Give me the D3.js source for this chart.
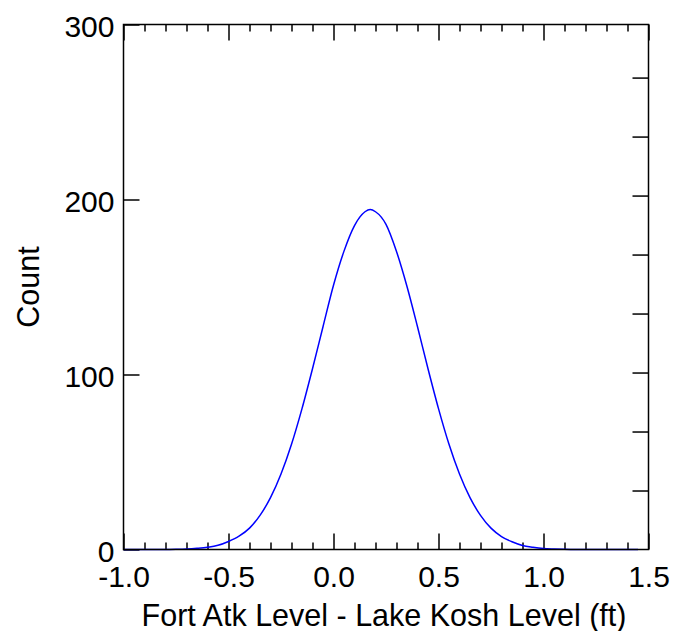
<!DOCTYPE html>
<html>
<head>
<meta charset="utf-8">
<script src="https://cdn.jsdelivr.net/npm/d3@7"></script>
<style>
  html, body { margin: 0; padding: 0; background: #fff; }
  svg text { font-family: "Liberation Sans", Arial, sans-serif; fill: #000; }
</style>
</head>
<body>
<svg id="chart" width="673" height="631"></svg>
<script>
// ---- data ----
const levelDiff = [-1.0, -0.95, -0.9, -0.85, -0.8, -0.75, -0.7, -0.65, -0.6, -0.55, -0.5, -0.45, -0.4, -0.35, -0.3, -0.25, -0.2, -0.15, -0.1, -0.05,
  0.0, 0.05, 0.1, 0.15, 0.175, 0.2, 0.25, 0.3, 0.35, 0.4, 0.45, 0.5, 0.55, 0.6, 0.65, 0.7, 0.75, 0.8, 0.85, 0.9, 0.95,
  1.0, 1.05, 1.1, 1.15, 1.2, 1.25, 1.3, 1.35, 1.4, 1.45, 1.5];
const counts = [0, 0, 0, 0, 0, 0.1, 0.3, 0.7, 1.3, 2.4, 4.6, 7.6, 12.2, 19.5, 29.6, 43.1, 60.1, 80.5, 103.3, 127.3,
  151, 170.5, 185.1, 193, 194.3, 193, 185.8, 170.3, 150.3, 127.3, 103.3, 80.5, 60.1, 43.1, 29.6, 19.5, 12.2, 7.4, 4.4, 2.3, 1.3,
  0.6, 0.3, 0.1, 0, 0, 0, 0, 0, 0, 0];
const xMajorTicks = [-1.0, -0.5, 0.0, 0.5, 1.0, 1.5];
const xMinorTicks = [-0.9, -0.8, -0.7, -0.6, -0.4, -0.3, -0.2, -0.1, 0.1, 0.2, 0.3, 0.4, 0.6, 0.7, 0.8, 0.9, 1.1, 1.2, 1.3, 1.4];
const yTicks = [0, 100, 200, 300];
const rightTicks = [1, 2, 3, 4, 5, 6, 7, 8];
const xTitle = "Fort Atk Level - Lake Kosh Level (ft)";
const yTitle = "Count";

// ---- layout ----
const L = 123.5, R = 648.5, T = 24.5, B = 549.5;
const FS = 30;
const svg = d3.select("#chart");
const x = d3.scaleLinear().domain([-1.0, 1.5]).range([L, R]);
const y = d3.scaleLinear().domain([0, 300]).range([B, T]);
const yRight = d3.scaleLinear().domain([0, 8.9]).range([B, T]);

const majorLen = 16, minorLen = 7;
const fmt = d => d3.format(".1f")(d).replace("\u2212", "-");
const axisStyle = g => {
  g.select(".domain").remove();
  g.selectAll(".tick line").attr("stroke", "#000").attr("stroke-width", 1.5);
  g.selectAll(".tick text").attr("font-size", FS).attr("fill", "#000")
    .attr("font-family", "Liberation Sans, Arial, sans-serif");
};

// bottom major (inward) with labels
svg.append("g").attr("transform", `translate(0,${B})`)
  .call(d3.axisBottom(x).tickValues(xMajorTicks).tickSize(-majorLen).tickPadding(16).tickFormat(fmt))
  .call(axisStyle);
// bottom minor
svg.append("g").attr("transform", `translate(0,${B})`)
  .call(d3.axisBottom(x).tickValues(xMinorTicks).tickSize(-minorLen).tickFormat(""))
  .call(axisStyle);
// top major & minor (inward)
svg.append("g").attr("transform", `translate(0,${T})`)
  .call(d3.axisTop(x).tickValues(xMajorTicks).tickSize(-majorLen).tickFormat(""))
  .call(axisStyle);
svg.append("g").attr("transform", `translate(0,${T})`)
  .call(d3.axisTop(x).tickValues(xMinorTicks).tickSize(-minorLen).tickFormat(""))
  .call(axisStyle);
// left axis
svg.append("g").attr("transform", `translate(${L},0)`)
  .call(d3.axisLeft(y).tickValues(yTicks).tickSize(-majorLen).tickPadding(9).tickFormat(d3.format("d")))
  .call(axisStyle)
  .call(g => g.selectAll(".tick text").attr("dy", "0.4em"));
// right axis ticks (no labels)
svg.append("g").attr("transform", `translate(${R},0)`)
  .call(d3.axisRight(yRight).tickValues(rightTicks).tickSize(-majorLen).tickFormat(""))
  .call(axisStyle);

// curve
const line = d3.line()
  .x((d, i) => x(levelDiff[i]))
  .y(d => y(d))
  .curve(d3.curveMonotoneX);
svg.append("path")
  .datum(counts)
  .attr("fill", "none")
  .attr("stroke", "#0000ff")
  .attr("stroke-width", 1.5)
  .attr("d", line);

// frame
svg.append("rect")
  .attr("x", L).attr("y", T).attr("width", R - L).attr("height", B - T)
  .attr("fill", "none").attr("stroke", "#000").attr("stroke-width", 1.5);

// titles
svg.append("text")
  .attr("x", 384).attr("y", 626)
  .attr("text-anchor", "middle").attr("font-size", FS + 0.5)
  .text(xTitle);
svg.append("text")
  .attr("transform", `translate(39,${(T + B) / 2}) rotate(-90)`)
  .attr("text-anchor", "middle").attr("font-size", FS + 0.5)
  .text(yTitle);
</script>
</body>
</html>
